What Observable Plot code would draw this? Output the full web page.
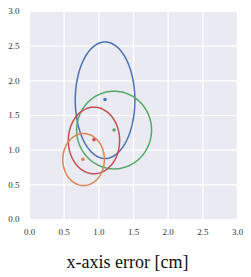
<!DOCTYPE html>
<html>
<head>
<meta charset="utf-8">
<script src="https://cdn.jsdelivr.net/npm/d3@7"></script>
<script src="https://cdn.jsdelivr.net/npm/@observablehq/plot@0.6"></script>
<style>
  body { margin: 0; background: #fff; }
  #chart { width: 251px; height: 242px; }
  #chart svg text { font-family: "Liberation Serif", "Times New Roman", serif; }
  .xlabel { font-family: "Liberation Serif", "Times New Roman", serif; font-size: 18px; line-height: 20px; color: #111;
            text-align: center; width: 251px; padding-left: 4px; box-sizing: border-box; margin-top: 10px; }
</style>
</head>
<body>
<div id="chart"></div>
<script>
const names = ["s1", "s2", "s3", "s4"];
const centerX = [1.09, 1.22, 0.93, 0.78];
const centerY = [1.72, 1.29, 1.14, 0.865];
const pointX = [1.09, 1.22, 0.93, 0.77];
const pointY = [1.73, 1.29, 1.15, 0.87];
const radiusX = [0.43, 0.54, 0.37, 0.30];
const radiusY = [0.84, 0.56, 0.48, 0.375];
const colors = ["#4c72b0", "#55a868", "#c44e52", "#dd8452"];
const ticks = [0, 0.5, 1, 1.5, 2, 2.5, 3];
const xLabel = "x-axis error [cm]";

// outline points of each ellipse from its center and radii
const N = 120;
const outline = [];
names.forEach((n, i) => {
  for (let k = 0; k < N; k++) {
    const t = (2 * Math.PI * k) / N;
    outline.push({name: n, t: k, x: centerX[i] + radiusX[i] * Math.cos(t), y: centerY[i] + radiusY[i] * Math.sin(t)});
  }
});
const pts = names.map((n, i) => ({name: n, x: pointX[i], y: pointY[i]}));

const plot = Plot.plot({
  width: 251,
  height: 242,
  marginTop: 11,
  marginBottom: 23,
  marginLeft: 29,
  marginRight: 14,
  style: {fontFamily: "'Liberation Serif', serif", fontSize: "9px", color: "#333", background: "transparent"},
  x: {domain: [0, 3], ticks, tickFormat: d3.format(".1f"), tickSize: 0, tickPadding: 9, label: null},
  y: {domain: [0, 3], ticks, tickFormat: d3.format(".1f"), tickSize: 0, tickPadding: 10, label: null},
  color: {domain: names, range: colors},
  marks: [
    Plot.frame({fill: "#eaeaf2", stroke: null}),
    Plot.gridX(ticks, {stroke: "#fff", strokeOpacity: 1, strokeWidth: 1.2}),
    Plot.gridY(ticks, {stroke: "#fff", strokeOpacity: 1, strokeWidth: 1.2}),
    Plot.line(outline, {x: "x", y: "y", z: "name", stroke: "name", curve: "linear-closed", strokeWidth: 1.5}),
    Plot.dot(pts, {x: "x", y: "y", fill: "name", r: 1.8, stroke: null})
  ]
});
document.getElementById("chart").appendChild(plot);
const lab = document.createElement("div");
lab.className = "xlabel";
lab.textContent = xLabel;
document.body.appendChild(lab);
</script>
</body>
</html>
